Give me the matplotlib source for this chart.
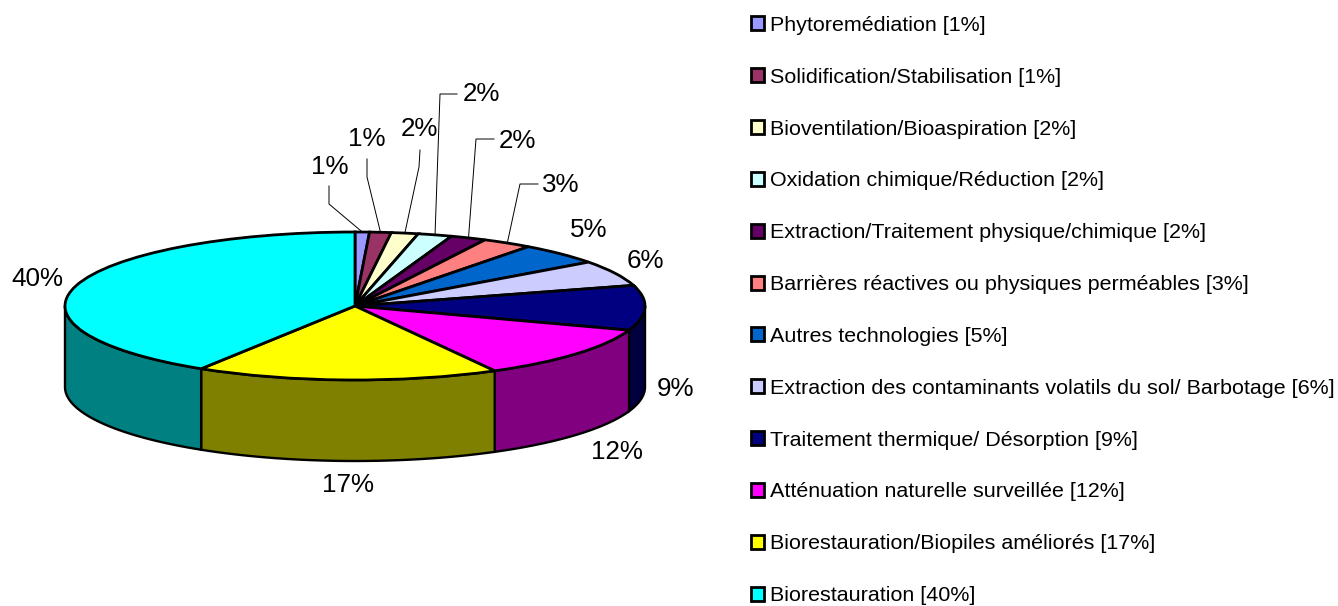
import numpy as np
import matplotlib
matplotlib.use("Agg")
import matplotlib.pyplot as plt

plt.rcParams['font.family'] = ['Liberation Sans', 'DejaVu Sans']

names = ["Phytoremédiation", "Solidification/Stabilisation", "Bioventilation/Bioaspiration",
         "Oxidation chimique/Réduction", "Extraction/Traitement physique/chimique",
         "Barrières réactives ou physiques perméables", "Autres technologies",
         "Extraction des contaminants volatils du sol/ Barbotage",
         "Traitement thermique/ Désorption", "Atténuation naturelle surveillée",
         "Biorestauration/Biopiles améliorés", "Biorestauration"]
# printed percentages
percent = [1, 1, 2, 2, 2, 3, 5, 6, 9, 12, 17, 40]
# slice sizes as measured on the drawing (the printed ones are rounded)
shares = [0.8, 1.2, 1.5, 1.9, 2.0, 2.8, 4.7, 5.6, 9.8, 11.7, 16.9, 41.1]
top_colors = ["#9999ff", "#993366", "#ffffcc", "#ccffff", "#660066", "#ff8080",
              "#0066cc", "#ccccff", "#000080", "#ff00ff", "#ffff00", "#00ffff"]
side_colors = ["#4c4c80", "#4c1933", "#808066", "#668080", "#330033", "#804040",
               "#003366", "#666680", "#000040", "#800080", "#808000", "#008080"]

W, H = 1338, 606
cx, cy = 355, 306      # pie centre, pixels
rx, ry = 290, 74       # top ellipse radii
depth = 81             # wall height

# label centres in pixels, and leader line elbows for the small slices
label_xy = [(330, 167), (367, 139), (419, 129), (481, 94), (517, 141), (561, 185),
            (589, 230), (645, 261), (676, 389), (617, 452), (348, 485), (37, 279)]
leaders = {0: [(329, 186), (329, 204)], 1: [(367, 159), (367, 177)], 2: [(420, 150), (419, 167)],
           3: [(457, 94), (440, 94)], 4: [(494, 139), (476, 139)], 5: [(538, 184), (520, 184)]}

fig = plt.figure(figsize=(W/100, H/100), dpi=100)

# pie axes: unit circle squashed onto the ellipse
ax = fig.add_axes([0, 0, 1, 1])
wedges, _ = ax.pie(shares, colors=top_colors, startangle=90, counterclock=False,
                   wedgeprops=dict(edgecolor="k", linewidth=2.0, zorder=3))
ax.set_aspect('auto')
ax.set_xlim(-cx/rx, (W-cx)/rx)
ax.set_ylim(-(H-cy)/ry, cy/ry)
ax.axis('off')

edges = np.cumsum([0] + shares) * 3.6
dz = depth / ry
for j in range(len(shares)):
    a0, a1 = max(edges[j], 90), min(edges[j+1], 270)
    if a1 <= a0:
        continue
    th = np.radians(np.linspace(a0, a1, 80))
    xs = np.r_[np.sin(th), np.sin(th)[::-1]]
    ys = np.r_[np.cos(th), np.cos(th)[::-1] - dz]
    ax.fill(xs, ys, facecolor=side_colors[j], edgecolor="k", linewidth=1.7, zorder=2)

# overlay in pixel coordinates for labels and legend
ov = fig.add_axes([0, 0, 1, 1], facecolor='none')
ov.set_xlim(0, W)
ov.set_ylim(H, 0)
ov.axis('off')

for j, p in enumerate(percent):
    ov.text(label_xy[j][0], label_xy[j][1], "{}%".format(p), fontsize=18.7,
            ha='center', va='center', color="k")
    if j in leaders:
        mid = np.radians((edges[j] + edges[j+1]) / 2)
        pts = leaders[j] + [(cx + rx*np.sin(mid), cy - ry*np.cos(mid))]
        ov.plot([q[0] for q in pts], [q[1] for q in pts], color="k", lw=0.7)

labels = ["{} [{}%]".format(n, p) for n, p in zip(names, percent)]
leg = ov.legend(wedges, labels, loc='upper left', bbox_to_anchor=(751/W, 1 - 16/H),
                bbox_transform=fig.transFigure, frameon=False, fontsize=15.45,
                labelspacing=1.53, handlelength=0.62, handleheight=0.62,
                handletextpad=0.28, borderaxespad=0, borderpad=0)

fig.savefig("out.png", dpi=100)
